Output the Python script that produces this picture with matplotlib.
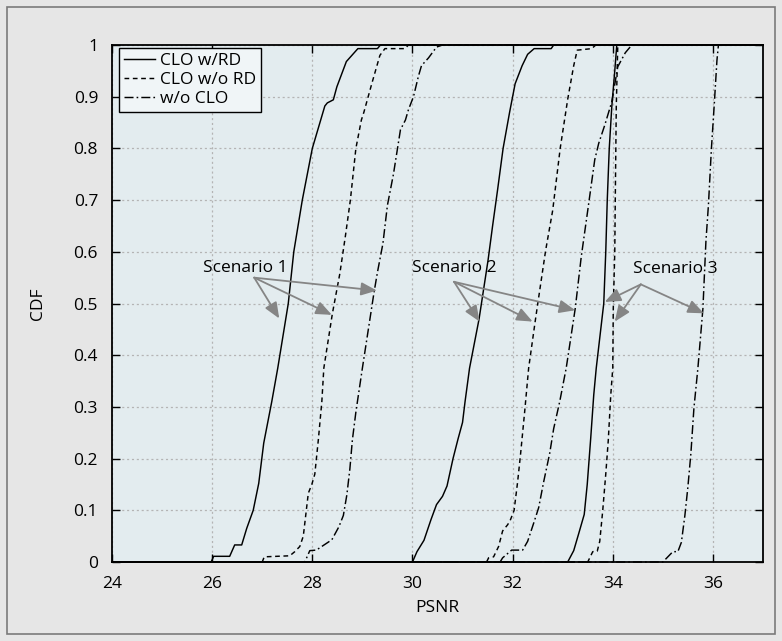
import matplotlib
matplotlib.use("Agg")
import matplotlib.pyplot as plt
from matplotlib.patches import Rectangle

plt.rcParams['font.family'] = ['Open Sans', 'DejaVu Sans']
plt.rcParams['lines.scale_dashes'] = False

# ---------------- data (PSNR, CDF) ----------------
s1_rd_x = [24, 25.98, 26.03, 26.35, 26.45, 26.59, 26.69, 26.82, 26.93, 27.03, 27.19, 27.31, 27.52, 27.63, 27.8, 28.0, 28.25, 28.3, 28.42, 28.49, 28.68, 28.91, 29.3, 29.36, 37]
s1_rd_y = [0, 0, 0.011, 0.011, 0.033, 0.033, 0.065, 0.1, 0.152, 0.23, 0.31, 0.375, 0.5, 0.6, 0.7, 0.8, 0.882, 0.888, 0.894, 0.919, 0.968, 0.993, 0.993, 1, 1]

s1_nrd_x = [24, 27.0, 27.04, 27.55, 27.65, 27.75, 27.82, 27.92, 27.99, 28.05, 28.12, 28.19, 28.23, 28.4, 28.55, 28.66, 28.76, 28.87, 28.98, 29.03, 29.19, 29.35, 29.45, 29.85, 29.92, 37]
s1_nrd_y = [0, 0, 0.01, 0.012, 0.02, 0.03, 0.05, 0.133, 0.15, 0.17, 0.236, 0.31, 0.375, 0.48, 0.558, 0.63, 0.7, 0.8, 0.855, 0.87, 0.926, 0.98, 0.993, 0.993, 1, 1]

s1_ncl_x = [24, 27.85, 27.95, 28.08, 28.39, 28.53, 28.62, 28.69, 28.75, 28.8, 28.87, 29.0, 29.23, 29.3, 29.41, 29.5, 29.62, 29.76, 29.86, 29.92, 30.02, 30.12, 30.18, 30.32, 30.48, 30.6, 37]
s1_ncl_y = [0, 0, 0.022, 0.023, 0.043, 0.068, 0.09, 0.13, 0.18, 0.236, 0.29, 0.375, 0.52, 0.56, 0.616, 0.69, 0.75, 0.836, 0.855, 0.875, 0.9, 0.94, 0.96, 0.975, 0.996, 1, 1]

s2_rd_x = [24, 30.0, 30.09, 30.23, 30.37, 30.48, 30.6, 30.69, 30.81, 30.91, 31.0, 31.05, 31.14, 31.33, 31.51, 31.6, 31.7, 31.81, 31.94, 32.05, 32.19, 32.3, 32.43, 32.77, 32.82, 37]
s2_rd_y = [0, 0, 0.02, 0.042, 0.082, 0.111, 0.127, 0.147, 0.2, 0.238, 0.27, 0.31, 0.375, 0.47, 0.584, 0.65, 0.72, 0.8, 0.87, 0.925, 0.96, 0.982, 0.993, 0.993, 1, 1]

s2_nrd_x = [24, 31.48, 31.52, 31.62, 31.72, 31.8, 31.9, 31.95, 32.03, 32.1, 32.16, 32.24, 32.32, 32.45, 32.51, 32.66, 32.8, 32.95, 33.1, 33.22, 33.29, 33.58, 33.66, 37]
s2_nrd_y = [0, 0, 0.008, 0.01, 0.03, 0.06, 0.072, 0.08, 0.1, 0.155, 0.21, 0.29, 0.375, 0.465, 0.505, 0.603, 0.68, 0.8, 0.895, 0.96, 0.99, 0.993, 1, 1]

s2_ncl_x = [24, 31.75, 31.8, 31.98, 32.2, 32.3, 32.42, 32.52, 32.62, 32.74, 32.82, 32.94, 33.07, 33.25, 33.37, 33.5, 33.64, 33.72, 33.84, 33.98, 34.1, 34.25, 34.38, 37]
s2_ncl_y = [0, 0, 0.008, 0.023, 0.023, 0.04, 0.075, 0.105, 0.155, 0.21, 0.258, 0.31, 0.375, 0.49, 0.59, 0.68, 0.778, 0.81, 0.845, 0.89, 0.958, 0.985, 1, 1]

s3_rd_x = [24, 33.1, 33.22, 33.32, 33.43, 33.49, 33.56, 33.62, 33.67, 33.82, 33.86, 33.89, 33.93, 33.98, 34.04, 34.08, 37]
s3_rd_y = [0, 0, 0.022, 0.055, 0.092, 0.15, 0.24, 0.323, 0.375, 0.5, 0.6, 0.7, 0.8, 0.88, 0.95, 1, 1]

s3_nrd_x = [24, 33.5, 33.6, 33.69, 33.74, 33.8, 33.86, 33.91, 33.96, 34.0, 34.01, 34.04, 34.05, 34.07, 34.1, 37]
s3_nrd_y = [0, 0, 0.02, 0.021, 0.04, 0.1, 0.17, 0.235, 0.323, 0.375, 0.49, 0.6, 0.7, 0.88, 1, 1]

s3_ncl_x = [24, 35.0, 35.2, 35.3, 35.37, 35.44, 35.5, 35.56, 35.62, 35.7, 35.8, 35.86, 35.91, 35.97, 36.03, 36.08, 36.11, 37]
s3_ncl_y = [0, 0, 0.02, 0.02, 0.038, 0.09, 0.145, 0.21, 0.297, 0.375, 0.49, 0.62, 0.69, 0.8, 0.89, 0.97, 1, 1]

labels = ["CLO w/RD", "CLO w/o RD", "w/o CLO"]
scenario_names = ["Scenario 1", "Scenario 2", "Scenario 3"]
text_pos = [(25.81, 0.569), (30.0, 0.569), (34.4, 0.567)]
arrow_origin = [(26.84, 0.55), (30.83, 0.542), (34.56, 0.537)]
arrow_tips = [
    [(27.34, 0.471), (28.39, 0.478), (29.29, 0.525)],
    [(31.34, 0.465), (32.4, 0.465), (33.25, 0.487)],
    [(33.84, 0.503), (34.04, 0.465), (35.82, 0.481)],
]
xticks = [24, 26, 28, 30, 32, 34, 36]
yticks = [0, 0.1, 0.2, 0.3, 0.4, 0.5, 0.6, 0.7, 0.8, 0.9, 1]

# ---------------- figure ----------------
W, H = 782, 641
fig = plt.figure(figsize=(W / 100, H / 100), dpi=100, facecolor='#e6e6e6')
ax = fig.add_axes([112 / W, 1 - 562 / H, (763 - 112) / W, (562 - 45) / H])
ax.set_facecolor('#e3ecef')

fig.patches.append(Rectangle((7 / W, 7 / H), (775 - 7) / W, (634 - 7) / H,
                             transform=fig.transFigure, fill=False,
                             edgecolor='#7a7a7a', linewidth=1.2))

solid = '-'
dashed = (0, (3.4, 2.6))
dashdot = (0, (6.5, 2.2, 1.2, 2.2))
lw = 1.05

series = [
    (s1_rd_x, s1_rd_y, solid, labels[0]),
    (s1_nrd_x, s1_nrd_y, dashed, labels[1]),
    (s1_ncl_x, s1_ncl_y, dashdot, labels[2]),
    (s2_rd_x, s2_rd_y, solid, None),
    (s2_nrd_x, s2_nrd_y, dashed, None),
    (s2_ncl_x, s2_ncl_y, dashdot, None),
    (s3_rd_x, s3_rd_y, solid, None),
    (s3_nrd_x, s3_nrd_y, dashed, None),
    (s3_ncl_x, s3_ncl_y, dashdot, None),
]
for x, y, ls, lab in series:
    ax.plot(x, y, color='black', linestyle=ls, linewidth=lw, label=lab,
            clip_on=False, zorder=3)

ax.set_xlim(24, 37)
ax.set_ylim(0, 1)
ax.set_xticks(xticks)
ax.set_yticks(yticks)
ax.set_yticklabels(['0' if t == 0 else ('1' if t == 1 else f'{t:g}') for t in yticks])
ax.tick_params(direction='in', length=6, width=1, top=True, right=True,
               labelsize=12.5, pad=10, colors='black')
ax.grid(True, color='#b4b4b4', linestyle=(0, (1.5, 2.0)), linewidth=0.9)
ax.set_axisbelow(True)
for sp in ax.spines.values():
    sp.set_linewidth(1.3)
    sp.set_color('black')

ax.set_xlabel('PSNR', fontsize=12.5)
ax.set_ylabel('CDF', fontsize=12.5)
ax.xaxis.set_label_coords(0.5, (562 - 608) / 517)
ax.xaxis.label.set_va('center')
ax.yaxis.set_label_coords((38 - 112) / 651, 0.5)
ax.yaxis.label.set_va('center')

# annotations
for name, tp, org, tips in zip(scenario_names, text_pos, arrow_origin, arrow_tips):
    ax.text(tp[0], tp[1], name, fontsize=12.5, ha='left', va='center', zorder=5)
    for tip in tips:
        ax.annotate('', xy=tip, xytext=org,
                    arrowprops=dict(arrowstyle='-|>,head_length=0.6,head_width=0.25',
                                    color='#858585', lw=1.3, mutation_scale=16,
                                    shrinkA=0, shrinkB=0),
                    zorder=4)

leg = ax.legend(loc='upper left', bbox_to_anchor=(7 / 651, 1 - 3 / 517),
                fontsize=12.5, frameon=True, fancybox=False,
                edgecolor='black', facecolor='#f0f5f7', framealpha=1,
                handlelength=1.8, handletextpad=0.25, labelspacing=0.15,
                borderpad=0.3, borderaxespad=0)
leg.get_frame().set_linewidth(1.0)
leg.set_zorder(6)

fig.savefig('out.png', dpi=100, facecolor=fig.get_facecolor())
